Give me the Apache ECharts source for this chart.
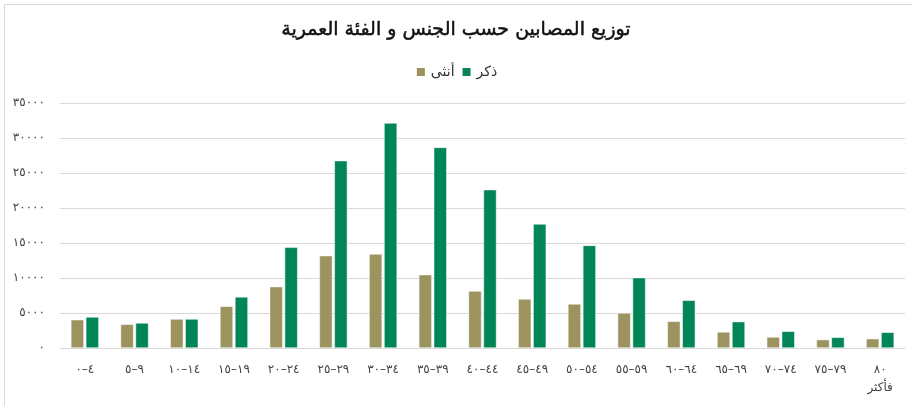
<!DOCTYPE html>
<html>
<head>
<meta charset="utf-8">
<script src="https://cdn.jsdelivr.net/npm/echarts@6/dist/echarts.min.js"></script>
<style>
html,body{margin:0;padding:0;background:#fff;}
#chart{width:912px;height:406px;}
</style>
</head>
<body>
<div id="chart"></div>
<script>
var categories = ['٠–٤','٥–٩','١٠–١٤','١٥–١٩','٢٠–٢٤','٢٥–٢٩','٣٠–٣٤','٣٥–٣٩','٤٠–٤٤','٤٥–٤٩','٥٠–٥٤','٥٥–٥٩','٦٠–٦٤','٦٥–٦٩','٧٠–٧٤','٧٥–٧٩','٨٠\nفأكثر'];
var femaleValues = [4040, 3380, 4140, 5950, 8760, 13190, 13430, 10470, 8140, 7000, 6290, 5000, 3810, 2290, 1570, 1190, 1330];
var maleValues = [4430, 3570, 4140, 7290, 14380, 26760, 32140, 28660, 22620, 17710, 14660, 10050, 6810, 3760, 2380, 1520, 2240];
var seriesNames = ['أنثى', 'ذكر'];
var titleText = 'توزيع المصابين حسب الجنس و الفئة العمرية';
var yTickValues = [0, 5000, 10000, 15000, 20000, 25000, 30000, 35000];
var arabicDigits = ['٠','١','٢','٣','٤','٥','٦','٧','٨','٩'];

function toArabic(v) {
  return String(v).replace(/[0-9]/g, function (d) { return arabicDigits[+d]; });
}

var font = "'DejaVu Sans', 'Noto Sans', sans-serif";
var chart = echarts.init(document.getElementById('chart'), null, {renderer: 'canvas'});
chart.setOption({
  animation: false,
  backgroundColor: '#ffffff',
  graphic: [{
    type: 'rect',
    shape: {x: 4.5, y: 4.5, width: 920, height: 420},
    style: {fill: 'none', stroke: '#d9d9d9', lineWidth: 1},
    silent: true
  }],
  title: {
    text: titleText,
    left: 'center',
    top: 16,
    textStyle: {fontFamily: font, fontSize: 19, fontWeight: 'normal', color: '#111', textBorderColor: '#111', textBorderWidth: 0.5}
  },
  legend: {
    data: seriesNames,
    top: 60,
    left: 'center',
    itemWidth: 10,
    itemHeight: 10,
    itemGap: 6,
    icon: 'rect',
    textStyle: {fontFamily: font, fontSize: 14, color: '#333'}
  },
  grid: {left: 60, right: 7, top: 103, bottom: 58, containLabel: false},
  xAxis: {
    type: 'category',
    data: categories,
    axisLine: {show: true, lineStyle: {color: '#d9d9d9', width: 1}},
    axisTick: {show: false},
    axisLabel: {
      interval: 0,
      fontFamily: font,
      fontSize: 12,
      color: '#444',
      margin: 13,
      lineHeight: 18,
      formatter: function (v) { return v.replace('–', '\u200E–\u200E'); }
    }
  },
  yAxis: {
    type: 'value',
    min: yTickValues[0],
    max: yTickValues[yTickValues.length - 1],
    interval: 5000,
    axisLine: {show: false},
    axisTick: {show: false},
    splitLine: {lineStyle: {color: '#d9d9d9', width: 1}},
    axisLabel: {
      fontFamily: font,
      fontSize: 12,
      color: '#444',
      margin: 15,
      formatter: function (v) { return toArabic(v); }
    }
  },
  series: [
    {
      name: seriesNames[0],
      type: 'bar',
      data: femaleValues,
      barWidth: 13,
      barGap: '15%',
      itemStyle: {color: '#9c935f', borderColor: '#ffffff', borderWidth: 0.5}
    },
    {
      name: seriesNames[1],
      type: 'bar',
      data: maleValues,
      barWidth: 13,
      barGap: '15%',
      itemStyle: {color: '#008656', borderColor: '#ffffff', borderWidth: 0.5}
    }
  ]
});
</script>
</body>
</html>
